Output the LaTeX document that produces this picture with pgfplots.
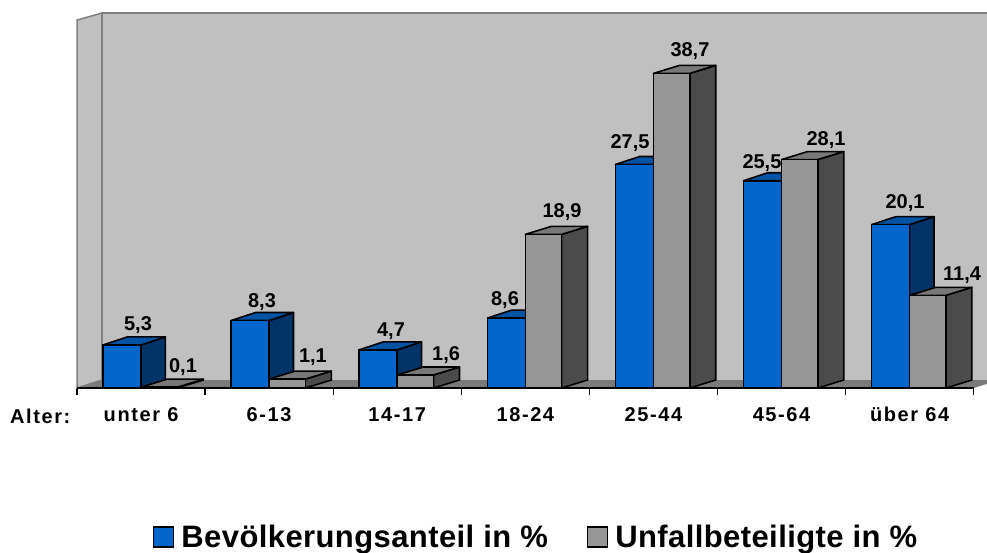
\documentclass[border=0pt]{standalone}
\usepackage{fontspec}
\setmainfont{Liberation Sans}
\newfontface\tickfont[LetterSpace=8]{Liberation Sans Bold}
\newfontface\legfont[LetterSpace=1.3]{Liberation Sans Bold}
\usepackage{pgfplots}
\pgfplotsset{compat=1.18}
\definecolor{wall}{HTML}{C0C0C0}
\definecolor{wallline}{HTML}{808080}
\definecolor{floorc}{HTML}{7A7A7A}
\definecolor{bfront}{HTML}{0066CC}
\definecolor{btop}{HTML}{0052A3}
\definecolor{bside}{HTML}{003366}
\definecolor{gfront}{HTML}{969696}
\definecolor{gtop}{HTML}{787878}
\definecolor{gside}{HTML}{4B4B4B}
\newcommand{\solid}[6]{%
  \pgfmathsetmacro\xa{#1+#6}%
  \pgfmathsetmacro\xb{#2+#6}%
  \pgfmathsetmacro\vb{#3+0.984}%
  \addplot[fill=#5,draw=black,line width=1.6pt,line join=round,forget plot] coordinates {(#2,0)(\xb,0.984)(\xb,\vb)(#2,#3)} -- cycle;
  \addplot[fill=#4,draw=black,line width=1.6pt,line join=round,forget plot] coordinates {(#1,#3)(\xa,\vb)(\xb,\vb)(#2,#3)} -- cycle;
}
\newcommand{\lbl}{\fontsize{20}{24}\selectfont\bfseries}
\newcommand{\tlbl}{\fontsize{20}{24}\tickfont}
\begin{document}
\begin{tikzpicture}[x=1pt,y=1pt]
\path[use as bounding box] (0,0) rectangle (987,-552);
\begin{axis}[
  at={(77pt,-388pt)}, anchor=south west,
  scale only axis, width=910pt, height=375pt,
  xmin=0, xmax=7.1038, ymin=0, ymax=46.13,
  clip=false,
  axis line style={draw=none},
  ytick=\empty,
  xtick={0,1,2,3,4,5,6,7},
  x tick label as interval=true,
  xticklabels={unter 6,6-13,14-17,18-24,25-44,45-64,über 64},
  xtick pos=bottom,
  tick align=outside,
  major tick length=7pt,
  tick style={black,line width=1.4pt},
  xticklabel style={font=\tlbl, text height=15pt, text depth=0pt, yshift=-8pt},
  legend style={at={(0.0835,-0.397)},anchor=west,draw=none,fill=none,inner sep=0pt,outer sep=0pt,
     legend columns=2,font=\fontsize{31}{36}\legfont,
     /tikz/every even column/.append style={column sep=32pt},
     nodes={inner xsep=7pt,inner ysep=0pt}},
]
% walls and floor
\addplot[fill=wall,draw=wallline,line width=1.5pt,forget plot] coordinates {(0,0)(0,45.26)(0.195,46.13)(0.195,0.984)} -- cycle;
\addplot[fill=wall,draw=none,forget plot] coordinates {(0.195,0.984)(0.195,46.13)(7.1038,46.13)(7.1038,0.984)} -- cycle;
\addplot[draw=wallline,line width=1.5pt,forget plot] coordinates {(0.195,0.984)(0.195,46.13)(7.1038,46.13)};
\addplot[fill=floorc,draw=none,forget plot] coordinates {(0,0)(0.195,0.984)(7.1038,0.984)(7.1038,0.512)(7,0)} -- cycle;
% blue bars
\solid{0.2033}{0.5}{5.3}{btop}{bside}{0.19}
\solid{1.2033}{1.5}{8.3}{btop}{bside}{0.19}
\solid{2.2033}{2.5}{4.7}{btop}{bside}{0.19}
\solid{3.2033}{3.5}{8.6}{btop}{bside}{0.19}
\solid{4.2033}{4.5}{27.5}{btop}{bside}{0.19}
\solid{5.2033}{5.5}{25.5}{btop}{bside}{0.19}
\solid{6.2033}{6.5}{20.1}{btop}{bside}{0.19}
\addplot[ybar,bar width=0.2967,bar shift=-0.14835,fill=bfront,draw=black,line width=1.6pt,forget plot]
  coordinates {(0.5,5.3)(1.5,8.3)(2.5,4.7)(3.5,8.6)(4.5,27.5)(5.5,25.5)(6.5,20.1)};
% grey bars
\solid{0.5}{0.783}{0.1}{gtop}{gside}{0.203}
\solid{1.5}{1.783}{1.1}{gtop}{gside}{0.203}
\solid{2.5}{2.783}{1.6}{gtop}{gside}{0.203}
\solid{3.5}{3.783}{18.9}{gtop}{gside}{0.203}
\solid{4.5}{4.783}{38.7}{gtop}{gside}{0.203}
\solid{5.5}{5.783}{28.1}{gtop}{gside}{0.203}
\solid{6.5}{6.783}{11.4}{gtop}{gside}{0.203}
\addplot[ybar,bar width=0.283,bar shift=0.1415,fill=gfront,draw=black,line width=1.6pt,forget plot]
  coordinates {(0.5,0.1)(1.5,1.1)(2.5,1.6)(3.5,18.9)(4.5,38.7)(5.5,28.1)(6.5,11.4)};
% axis line
\addplot[black,line width=1.8pt,forget plot] coordinates {(0,0)(7,0)};
% value labels
\begin{scope}[every node/.style={font=\lbl,anchor=base,yshift=-7.5pt,inner sep=0pt}]
\node at (axis cs:0.476,7.995) {5,3};
\node at (axis cs:0.8275,2.83) {0,1};
\node at (axis cs:1.444,10.82) {8,3};
\node at (axis cs:1.842,4.06) {1,1};
\node at (axis cs:2.451,7.26) {4,7};
\node at (axis cs:2.881,4.31) {1,6};
\node at (axis cs:3.341,11.07) {8,6};
\node at (axis cs:3.786,21.89) {18,9};
\node at (axis cs:4.317,30.37) {27,5};
\node at (axis cs:4.785,41.70) {38,7};
\node at (axis cs:5.347,27.92) {25,5};
\node at (axis cs:5.847,30.75) {28,1};
\node at (axis cs:6.464,22.98) {20,1};
\node at (axis cs:6.909,14.15) {11,4};
\end{scope}
% legend
\addlegendimage{legend image code/.code={\draw[fill=bfront,draw=black,line width=1.5pt] (0pt,-10pt) rectangle (20pt,10pt);}}
\addlegendentry{Bevölkerungsanteil in \%}
\addlegendimage{legend image code/.code={\draw[fill=gfront,draw=black,line width=1.5pt] (0pt,-10pt) rectangle (20pt,10pt);}}
\addlegendentry{Unfallbeteiligte in \%}
\end{axis}
\node[font=\tlbl,anchor=base west,inner sep=0pt] at (10,-423) {Alter:};
\end{tikzpicture}
\end{document}
